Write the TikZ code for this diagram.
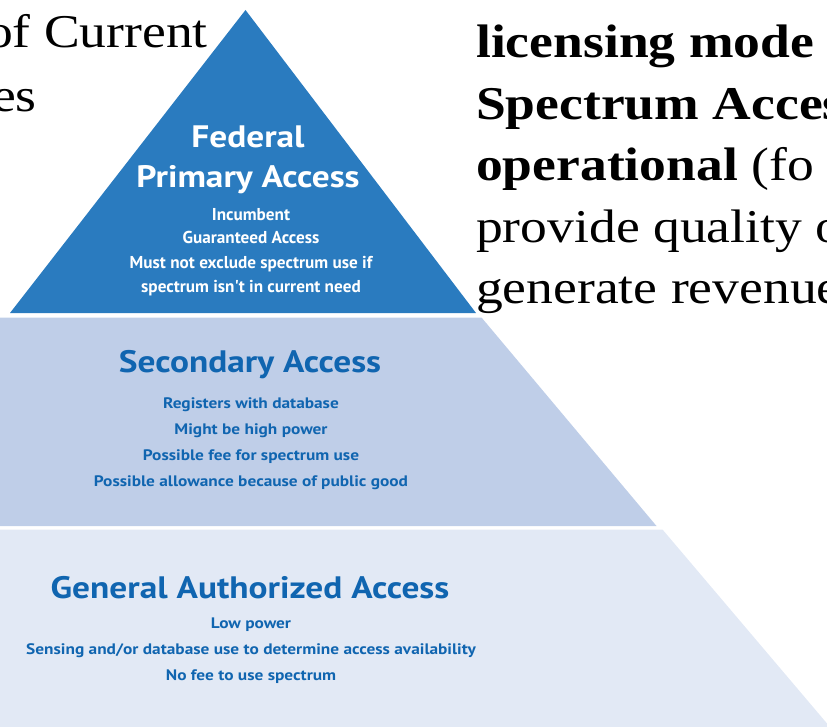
\documentclass[tikz,border=0pt]{standalone}
\usepackage{fontspec}
\setmainfont[FakeStretch=1.14]{Liberation Serif}
\newfontfamily\tierfont{PT Sans}
\newfontfamily\widefont[FakeStretch=1.14]{PT Sans}
\usetikzlibrary{positioning}

\definecolor{fedblue}{RGB}{42,123,191}
\definecolor{secblue}{RGB}{191,206,232}
\definecolor{genblue}{RGB}{226,233,245}
\definecolor{inkblue}{RGB}{16,101,176}

\begin{document}
\begin{tikzpicture}[x=1pt,y=-1pt,inner sep=0pt,
  slide/.style={font=\fontsize{47}{61}\selectfont,anchor=base west},
  fedtitle/.style={text=white,font=\widefont\bfseries\fontsize{31}{40}\selectfont,align=center,anchor=base},
  fedline/.style={text=white,font=\tierfont\bfseries\fontsize{17.2}{24}\selectfont,align=center,anchor=base},
  tiertitle/.style={text=inkblue,font=\widefont\bfseries\fontsize{31}{40}\selectfont,anchor=base},
  tierline/.style={text=inkblue,font=\widefont\bfseries\fontsize{15.2}{25.7}\selectfont,align=center,anchor=base}]
\useasboundingbox (0,0) rectangle (827,727);
\begin{scope}
\clip (0,0) rectangle (827,727);
% the three tiers
\fill[genblue] (-150,529.5) -- (662.5,529.5) -- (830,727) -- (-150,727) -- cycle;
\fill[secblue] (-150,317.5) -- (481.5,317.5) -- (656.5,526) -- (-150,526) -- cycle;
\fill[fedblue] (245.5,10) -- (476,313) -- (10,313) -- cycle;

% tier texts (anchored on the last line)
\node[fedtitle] (fed) at (248,188) {Federal\\Primary Access};
\node[fedline] (fedx) at (251,292) {Incumbent\\Guaranteed Access\\Must not exclude spectrum use if\\spectrum isn't in current need};
\node[tiertitle] (sec) at (250,372) {Secondary Access};
\node[tierline] (secx) at (251,486) {Registers with database\\Might be high power\\Possible fee for spectrum use\\Possible allowance because of public good};
\node[tiertitle] (gaa) at (250,598) {General Authorized Access};
\node[tierline] (gaax) at (251,680) {Low power\\Sensing and/or database use to determine access availability\\No fee to use spectrum};

% slide text around the pyramid
\node[slide,anchor=base east] (cur) at (208,47.5) {of Current};
\node[slide,anchor=base east] (es) at (37,112) {es};
\node[slide] (lic) at (476,58) {\bfseries licensing mode};
\node[slide] (spa) at (476,119.5) {\bfseries Spectrum Acces};
\node[slide] (ope) at (476,181) {\textbf{operational} (fo};
\node[slide] (pro) at (476,242.5) {provide quality o};
\node[slide] (gen) at (476,304) {generate revenue};
\end{scope}
\end{tikzpicture}
\end{document}
